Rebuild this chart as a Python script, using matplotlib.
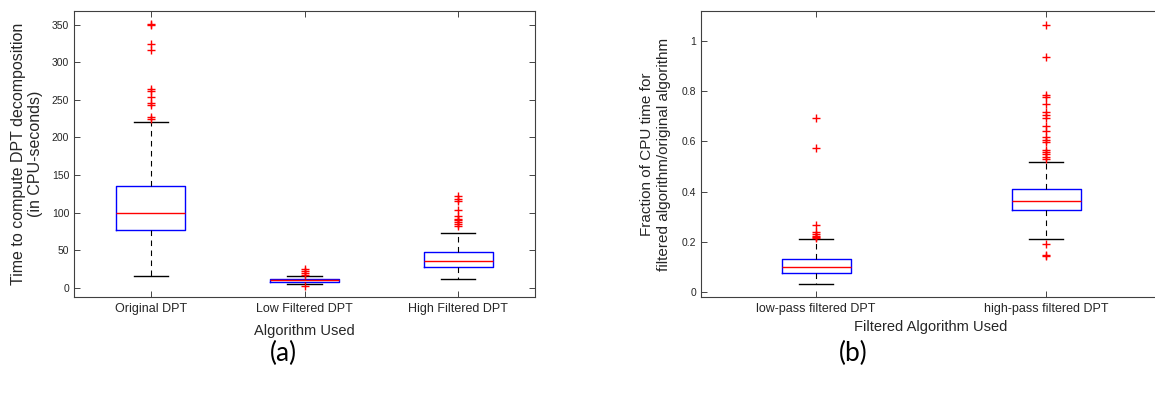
import matplotlib
matplotlib.use('Agg')
import matplotlib.pyplot as plt

# (a) CPU time per algorithm
algs_a = ['Original DPT', 'Low Filtered DPT', 'High Filtered DPT']
q1_a = [77, 8.3, 28.5]
med_a = [99, 10, 36]
q3_a = [136, 11.6, 47.5]
lo_a = [16, 5.3, 12.5]
hi_a = [220, 15.6, 73]
out_a = [
    [225, 227, 243, 246, 254, 262, 264, 316, 324, 350, 351],
    [17.3, 19.6, 22.2, 24.9, 3.1],
    [82, 85, 88, 90, 92, 95, 104, 115, 118, 121.6],
]

# (b) fraction of CPU time, filtered / original
algs_b = ['low-pass filtered DPT', 'high-pass filtered DPT']
q1_b = [0.077, 0.325]
med_b = [0.0996, 0.361]
q3_b = [0.130, 0.409]
lo_b = [0.031, 0.21]
hi_b = [0.211, 0.519]
out_b = [
    [0.215, 0.22, 0.225, 0.23, 0.238, 0.268, 0.575, 0.693],
    [0.531, 0.539, 0.55, 0.559, 0.566, 0.599, 0.606, 0.616, 0.641, 0.662,
     0.692, 0.705, 0.716, 0.748, 0.778, 0.787, 0.937, 1.066, 0.19, 0.147, 0.143],
]

W, H = 1155, 396
fig = plt.figure(figsize=(W / 100, H / 100), dpi=100)
plt.rcParams['font.family'] = ['Liberation Sans', 'DejaVu Sans']

tick_col = '#262626'


def draw(ax, names, q1, med, q3, lo, hi, out, width):
    stats = []
    for n, a, m, b, l, h, o in zip(names, q1, med, q3, lo, hi, out):
        stats.append(dict(label=n, q1=a, med=m, q3=b, whislo=l, whishi=h, fliers=o))
    ax.bxp(stats, widths=width, showfliers=True,
           boxprops=dict(color='blue', linewidth=1.0),
           medianprops=dict(color='red', linewidth=1.0),
           whiskerprops=dict(color='black', linestyle=(0, (5, 4)), linewidth=0.8),
           capprops=dict(color='black', linewidth=1.0),
           flierprops=dict(marker='+', markeredgecolor='red', markersize=5.5, linestyle='none'))
    ax.tick_params(direction='in', top=True, right=True, length=4, width=0.6,
                   colors=tick_col, labelsize=7.5)
    ax.tick_params(axis='x', labelsize=9, pad=4)
    for s in ax.spines.values():
        s.set_color('#404040')
        s.set_linewidth(0.8)


ax1 = fig.add_axes([74 / W, (H - 297) / H, 461 / W, 286 / H])
draw(ax1, algs_a, q1_a, med_a, q3_a, lo_a, hi_a, out_a, 0.45)
ax1.set_xlim(0.5, 3.5)
ax1.set_ylim(-12, 368)
ax1.set_yticks(range(0, 351, 50))
ax1.set_ylabel('Time to compute DPT decomposition\n(in CPU-seconds)', fontsize=11.5, color=tick_col, labelpad=6)
ax1.set_xlabel('Algorithm Used', fontsize=10.5, color=tick_col, labelpad=7)

ax2 = fig.add_axes([701 / W, (H - 297) / H, 460 / W, 286 / H])
draw(ax2, algs_b, q1_b, med_b, q3_b, lo_b, hi_b, out_b, 0.3)
ax2.set_xlim(0.5, 2.5)
ax2.set_ylim(-0.02, 1.12)
ax2.set_yticks([0, 0.2, 0.4, 0.6, 0.8, 1])
ax2.set_yticklabels(['0', '0.2', '0.4', '0.6', '0.8', '1'])
ax2.set_ylabel('Fraction of CPU time for\nfiltered algorithm/original algorithm', fontsize=11, color=tick_col, labelpad=8)
ax2.set_xlabel('Filtered Algorithm Used', fontsize=10.5, color=tick_col, labelpad=4)

fig.text(283 / W, 1 - 353 / H, '(a)', fontsize=19, family=['Lato', 'DejaVu Sans'], ha='center', va='center')
fig.text(853 / W, 1 - 353 / H, '(b)', fontsize=19, family=['Lato', 'DejaVu Sans'], ha='center', va='center')

fig.savefig('out.png', dpi=100)
